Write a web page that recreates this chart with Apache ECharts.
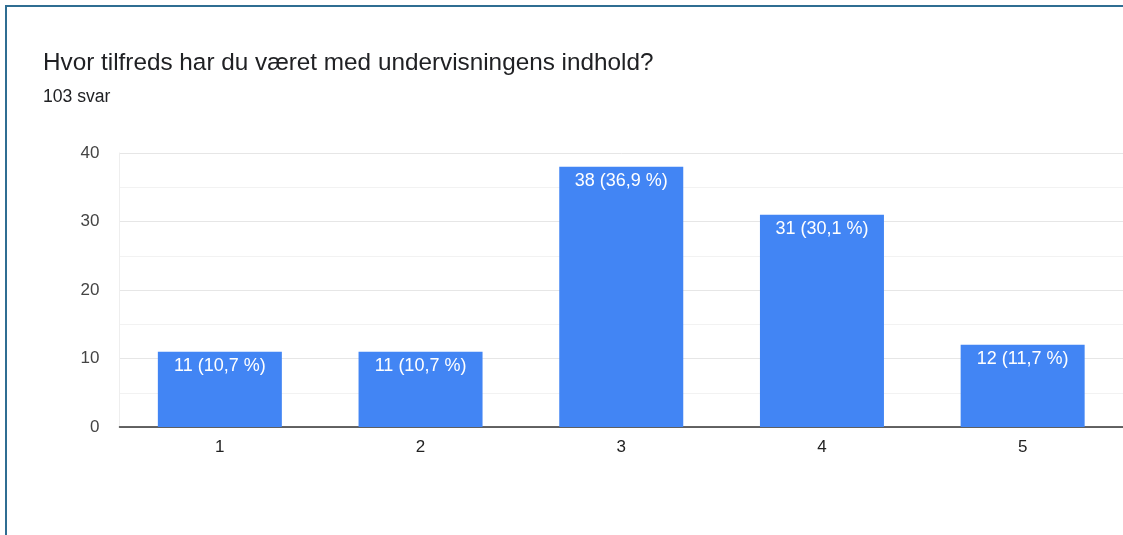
<!DOCTYPE html>
<html>
<head>
<meta charset="utf-8">
<script src="https://cdn.jsdelivr.net/npm/echarts@6/dist/echarts.min.js"></script>
<style>
html,body{margin:0;padding:0;background:#fff;}
#c{width:1123px;height:535px;}
</style>
</head>
<body>
<div id="c"></div>
<script>
const titleText = "Hvor tilfreds har du været med undervisningens indhold?";
const subtitleText = "103 svar";
const categories = ["1", "2", "3", "4", "5"];
const counts = [11, 11, 38, 31, 12];
const percents = ["10,7", "10,7", "36,9", "30,1", "11,7"];
const yTicks = [0, 10, 20, 30, 40];

const font = "'Liberation Sans', Arial, Helvetica, sans-serif";
const chart = echarts.init(document.getElementById('c'));
chart.setOption({
  animation: false,
  backgroundColor: '#ffffff',
  graphic: [{
    type: 'rect',
    shape: { x: 6, y: 6, width: 1300, height: 700 },
    style: { fill: 'none', stroke: '#2f6d92', lineWidth: 2 },
    silent: true
  }],
  title: [{
    text: titleText,
    left: 43, top: 51, padding: 0,
    textStyle: { fontFamily: font, fontSize: 24.3, fontWeight: 'normal', color: '#202124' }
  }, {
    text: subtitleText,
    left: 43, top: 88, padding: 0,
    textStyle: { fontFamily: font, fontSize: 17.6, fontWeight: 'normal', color: '#202124' }
  }],
  grid: { left: 119.5, width: 1008.5, top: 153, height: 274 },
  xAxis: {
    type: 'category',
    data: categories,
    axisLine: { lineStyle: { color: '#333', width: 1.5 } },
    axisTick: { show: false },
    axisLabel: { fontFamily: font, fontSize: 17, color: '#222', margin: 12 },
    splitLine: { show: false }
  },
  yAxis: {
    type: 'value',
    min: yTicks[0], max: yTicks[yTicks.length - 1], interval: 10,
    axisLine: { show: true, lineStyle: { color: '#eeeeee', width: 1 } },
    axisTick: { show: false },
    axisLabel: { fontFamily: font, fontSize: 17, color: '#444', margin: 20 },
    splitLine: { lineStyle: { color: '#e6e6e6', width: 1 } },
    minorTick: { show: false, splitNumber: 2 },
    minorSplitLine: { show: true, lineStyle: { color: '#f2f2f2', width: 1 } }
  },
  series: [{
    type: 'bar',
    data: counts,
    barWidth: 124,
    itemStyle: { color: '#4285f4' },
    label: {
      show: true,
      position: 'insideTop',
      distance: 5,
      fontFamily: font,
      fontSize: 18,
      color: '#ffffff',
      formatter: p => p.value + ' (' + percents[p.dataIndex] + ' %)'
    }
  }]
});
</script>
</body>
</html>
